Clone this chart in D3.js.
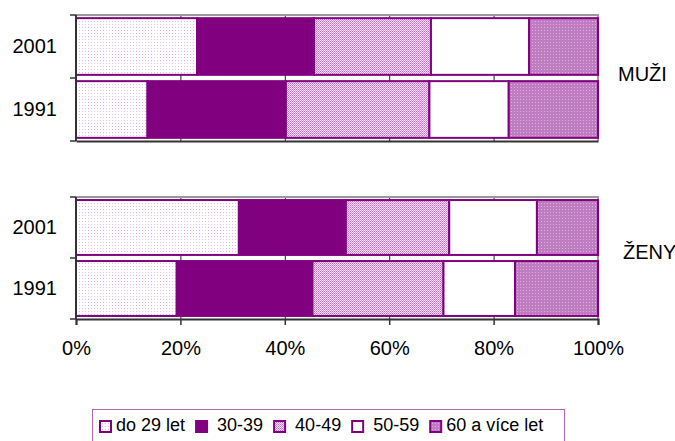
<!DOCTYPE html>
<html>
<head>
<meta charset="utf-8">
<script src="https://cdn.jsdelivr.net/npm/d3@7"></script>
<style>
  body { margin: 0; background: #fff; }
  text { font-family: "Liberation Sans", Arial, sans-serif; fill: #000; }
</style>
</head>
<body>
<div id="chart"></div>
<script>
// Data
var ageGroups = ["do 29 let", "30-39", "40-49", "50-59", "60 a více let"];
var legendLabels = ["do 29 let", " 30-39", " 40-49", " 50-59", "60 a více let"];
var years = ["2001", "1991"];
var xTicks = [0, 20, 40, 60, 80, 100];

var muzi2001 = [23.2, 22.4, 22.4, 18.8, 13.2];
var muzi1991 = [13.7, 26.5, 27.5, 15.2, 17.1];
var zeny2001 = [31.2, 20.5, 19.8, 16.8, 11.7];
var zeny1991 = [19.3, 26.0, 25.1, 13.7, 15.9];

var svgWidth = 675;
var svgHeight = 441;
var margin = { left: 76, right: 77 };
var width = svgWidth - margin.left - margin.right;

var panels = [
  { name: "MUŽI", top: 15, bottom: 141, rows: [muzi2001, muzi1991], labelX: 618, labelDy: 3, xAxis: false },
  { name: "ŽENY", top: 197, bottom: 319, rows: [zeny2001, zeny1991], labelX: 623, labelDy: 1, xAxis: true }
];

var purple = "#800080";

var svg = d3.select("#chart")
  .append("svg")
  .attr("width", svgWidth)
  .attr("height", svgHeight);

// Step 1: patterns for the fills
var defs = svg.append("defs");

var p1 = defs.append("pattern").attr("id", "pat0")
  .attr("width", 3).attr("height", 3).attr("patternUnits", "userSpaceOnUse");
p1.append("rect").attr("width", 3).attr("height", 3).attr("fill", "#fff");
p1.append("rect").attr("width", 1).attr("height", 1).attr("fill", "#e4bce4");

var p3 = defs.append("pattern").attr("id", "pat2")
  .attr("width", 2).attr("height", 2).attr("patternUnits", "userSpaceOnUse");
p3.append("rect").attr("width", 2).attr("height", 2).attr("fill", "#f6e2f6");
p3.append("rect").attr("width", 1).attr("height", 1).attr("fill", "#c070c0");
p3.append("rect").attr("x", 1).attr("y", 1).attr("width", 1).attr("height", 1).attr("fill", "#d898d8");

var p5 = defs.append("pattern").attr("id", "pat4")
  .attr("width", 3).attr("height", 3).attr("patternUnits", "userSpaceOnUse");
p5.append("rect").attr("width", 3).attr("height", 3).attr("fill", "#c07cc0");
p5.append("rect").attr("width", 1).attr("height", 1).attr("fill", "#dcb2dc");

var fills = ["url(#pat0)", purple, "url(#pat2)", "#fff", "url(#pat4)"];

// Step 2: scales
var xScale = d3.scaleLinear()
  .domain([0, 100])
  .range([0, width]);

var stack = d3.stack().keys(d3.range(ageGroups.length));

panels.forEach(function(panel) {
  var height = panel.bottom - panel.top;
  var g = svg.append("g")
    .attr("transform", `translate(${margin.left}, ${panel.top})`);

  var yScale = d3.scaleBand()
    .domain(years)
    .range([0, height])
    .paddingInner(0.1)
    .paddingOuter(0.05);

  // gridlines
  g.append("g")
    .attr("class", "grid")
    .call(d3.axisBottom(xScale).tickValues(xTicks).tickSize(height).tickFormat(""))
    .call(s => s.select(".domain").remove())
    .call(s => s.selectAll("line").attr("stroke", "#222").attr("stroke-width", 1));

  // plot border top and right
  g.append("path")
    .attr("d", `M0,0H${width}V${height}`)
    .attr("fill", "none")
    .attr("stroke", "#999")
    .attr("stroke-width", 2);

  // Step 3: bars
  var rows = panel.rows.map(function(r, i) {
    var o = { year: years[i] };
    r.forEach(function(v, j) { o[j] = v; });
    return o;
  });
  var series = stack(rows);

  g.selectAll(".layer")
    .data(series)
    .enter()
    .append("g")
    .attr("class", "layer")
    .attr("fill", d => fills[d.key])
    .selectAll("rect")
    .data(d => d)
    .enter()
    .append("rect")
    .attr("x", d => xScale(d[0]))
    .attr("y", d => yScale(d.data.year))
    .attr("width", d => xScale(d[1]) - xScale(d[0]))
    .attr("height", yScale.bandwidth())
    .attr("stroke", purple)
    .attr("stroke-width", 2);

  // Step 4: axes
  var leftAxis = g.append("g")
    .call(d3.axisLeft(yScale).tickSize(0).tickPadding(19))
    .call(s => s.select(".domain").remove());
  leftAxis.selectAll("text")
    .attr("font-size", 20);

  var step = yScale.step();
  g.selectAll(".ytick")
    .data(d3.range(years.length + 1))
    .enter()
    .append("line")
    .attr("class", "ytick")
    .attr("x1", -6).attr("x2", 0)
    .attr("y1", i => Math.min(i * step, height))
    .attr("y2", i => Math.min(i * step, height))
    .attr("stroke", "#333")
    .attr("stroke-width", 1.5);

  g.append("line")
    .attr("x1", 0).attr("x2", 0)
    .attr("y1", 0).attr("y2", height)
    .attr("stroke", "#333")
    .attr("stroke-width", 2);

  var bottomAxis = d3.axisBottom(xScale)
    .tickValues(xTicks)
    .tickSize(panel.xAxis ? 6 : 0)
    .tickPadding(12)
    .tickFormat(d => panel.xAxis ? d + "%" : "");

  var xg = g.append("g")
    .attr("transform", `translate(0, ${height})`)
    .call(bottomAxis);
  xg.select(".domain").attr("stroke", "#333").attr("stroke-width", 2);
  xg.selectAll("line").attr("stroke", "#333").attr("stroke-width", 1.5);
  xg.selectAll("text")
    .attr("font-size", 20)
    .attr("dy", "0.9em");

  // panel label
  svg.append("text")
    .attr("x", panel.labelX)
    .attr("y", (panel.top + panel.bottom) / 2 + panel.labelDy)
    .attr("font-size", 20)
    .text(panel.name);
});

// Step 5: legend
svg.append("rect")
  .attr("x", 92.5)
  .attr("y", 409.5)
  .attr("width", 472)
  .attr("height", 40)
  .attr("fill", "#fff")
  .attr("stroke", "#b06ab0")
  .attr("stroke-width", 1);

var lx = 99;
legendLabels.forEach(function(label, i) {
  svg.append("rect")
    .attr("x", lx + 1)
    .attr("y", 421)
    .attr("width", 11)
    .attr("height", 11)
    .attr("fill", fills[i])
    .attr("stroke", purple)
    .attr("stroke-width", 2);
  var t = svg.append("text")
    .attr("x", lx + 17)
    .attr("y", 431)
    .attr("font-size", 18)
    .style("white-space", "pre")
    .text(label);
  lx = lx + 17 + t.node().getComputedTextLength() + 10;
});
</script>
</body>
</html>
